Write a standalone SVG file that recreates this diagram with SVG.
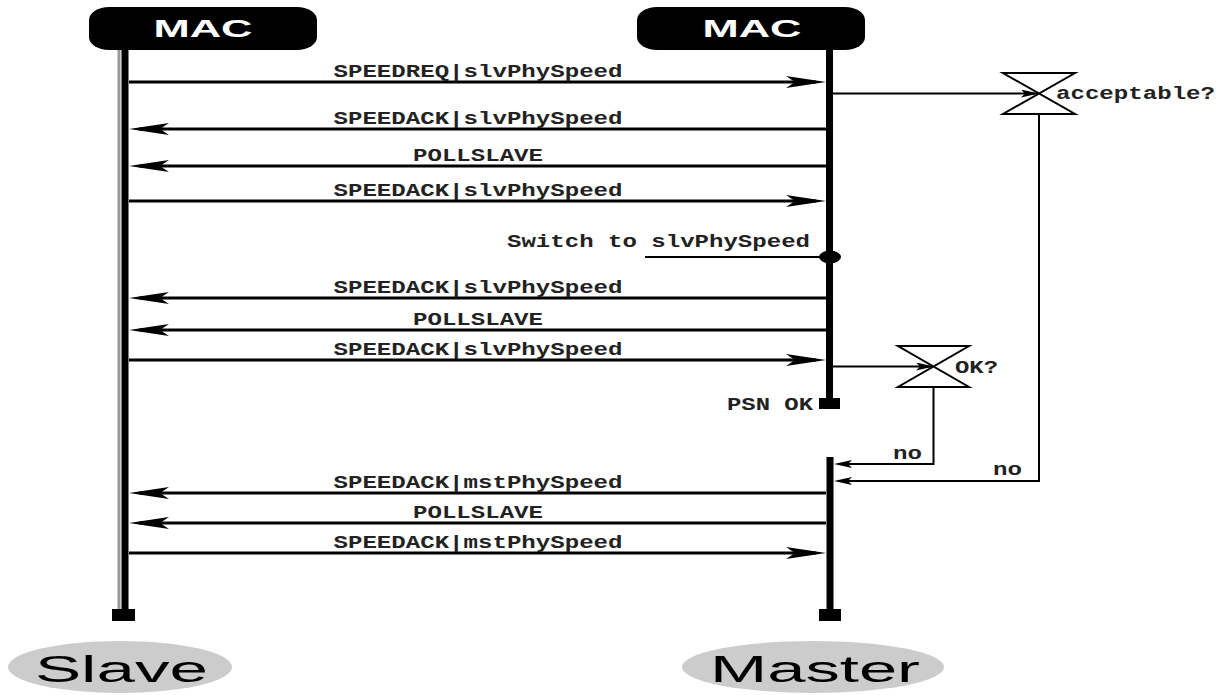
<svg xmlns="http://www.w3.org/2000/svg" width="1224" height="695" viewBox="0 0 1224 695">
<style>
.msg{stroke:#000;stroke-width:3;fill:none}
.thin{stroke:#000;stroke-width:2;fill:none}
.life{stroke:#000;stroke-width:7;fill:none}
.lbl{font-family:"Liberation Mono","Courier New",monospace;font-weight:bold;font-size:18px;fill:#222}
.mac{font-family:"Liberation Sans",Arial,sans-serif;font-weight:bold;font-size:24px;fill:#fff}
.role{font-family:"Liberation Sans",Arial,sans-serif;font-size:37px;fill:#000}
.dec{stroke:#000;stroke-width:2;fill:#fff}
</style>
<defs>
<marker id="big" markerUnits="userSpaceOnUse" viewBox="0 0 40 12" refX="30" refY="6" markerWidth="40" markerHeight="12" orient="auto">
<path d="M0,0 L40,6 L0,12 L9,6 Z" fill="#000"/>
</marker>
<marker id="small" markerUnits="userSpaceOnUse" viewBox="0 0 18 8" refX="14" refY="4" markerWidth="18" markerHeight="8" orient="auto">
<path d="M0,0 L18,4 L0,8 L4,4 Z" fill="#000"/>
</marker>
</defs>
<rect width="1224" height="695" fill="#fff"/>

<g id="slave-mac">
<line x1="119" y1="50" x2="119" y2="612" stroke="#999" stroke-width="3"/>
<line class="life" x1="125" y1="50" x2="125" y2="612"/>
<rect x="112" y="609" width="23" height="12" fill="#000"/>
<rect x="89" y="7" width="228" height="43" rx="20" ry="13" fill="#000"/>
<text class="mac" x="203" y="37" text-anchor="middle" textLength="99" lengthAdjust="spacingAndGlyphs">MAC</text>
</g>

<g id="master-mac">
<line class="life" x1="829.5" y1="50" x2="829.5" y2="400"/>
<rect x="819" y="398" width="21" height="11" fill="#000"/>
<text class="lbl" x="727" y="410" textLength="86" lengthAdjust="spacingAndGlyphs">PSN OK</text>
<line class="life" x1="830" y1="457" x2="830" y2="612"/>
<rect x="819" y="609" width="22" height="12" fill="#000"/>
<rect x="637" y="7" width="228" height="43" rx="20" ry="13" fill="#000"/>
<text class="mac" x="752" y="37" text-anchor="middle" textLength="99" lengthAdjust="spacingAndGlyphs">MAC</text>
</g>

<g id="slave-label">
<ellipse cx="120" cy="667" rx="112" ry="26" fill="#ccc"/>
<text class="role" x="121.5" y="682" text-anchor="middle" textLength="173" lengthAdjust="spacingAndGlyphs">Slave</text>
</g>

<g id="master-label">
<ellipse cx="813" cy="667" rx="131" ry="26" fill="#ccc"/>
<text class="role" x="815" y="682" text-anchor="middle" textLength="210" lengthAdjust="spacingAndGlyphs">Master</text>
</g>

<g id="decision-acceptable">
<path class="dec" d="M1003,73 L1075,73 L1003,114 L1075,114 Z"/>
<text class="lbl" x="1056" y="99" textLength="159" lengthAdjust="spacingAndGlyphs">acceptable?</text>
</g>

<g id="decision-ok">
<path class="dec" d="M898,346 L969,346 L898,387 L969,387 Z"/>
<text class="lbl" x="955" y="373" textLength="43" lengthAdjust="spacingAndGlyphs">OK?</text>
</g>

<g id="switch-event">
<line class="thin" x1="645" y1="257" x2="829" y2="257"/>
<ellipse cx="830" cy="257" rx="11" ry="6.5" fill="#000"/>
<text class="lbl" x="507" y="247" textLength="303" lengthAdjust="spacingAndGlyphs">Switch to slvPhySpeed</text>
</g>

<g id="connectors">
<line class="msg" x1="129" y1="82" x2="816" y2="82" marker-end="url(#big)"/>
<text class="lbl" x="478" y="77" text-anchor="middle" textLength="289" lengthAdjust="spacingAndGlyphs">SPEEDREQ|slvPhySpeed</text>

<line class="thin" x1="833" y1="93.5" x2="1035" y2="93.5" marker-end="url(#small)"/>

<line class="msg" x1="826" y1="129" x2="139" y2="129" marker-end="url(#big)"/>
<text class="lbl" x="478" y="124" text-anchor="middle" textLength="289" lengthAdjust="spacingAndGlyphs">SPEEDACK|slvPhySpeed</text>

<line class="msg" x1="826" y1="166" x2="139" y2="166" marker-end="url(#big)"/>
<text class="lbl" x="478" y="161" text-anchor="middle" textLength="130" lengthAdjust="spacingAndGlyphs">POLLSLAVE</text>

<line class="msg" x1="129" y1="201" x2="816" y2="201" marker-end="url(#big)"/>
<text class="lbl" x="478" y="196" text-anchor="middle" textLength="289" lengthAdjust="spacingAndGlyphs">SPEEDACK|slvPhySpeed</text>

<line class="msg" x1="826" y1="298" x2="139" y2="298" marker-end="url(#big)"/>
<text class="lbl" x="478" y="293" text-anchor="middle" textLength="289" lengthAdjust="spacingAndGlyphs">SPEEDACK|slvPhySpeed</text>

<line class="msg" x1="826" y1="330" x2="139" y2="330" marker-end="url(#big)"/>
<text class="lbl" x="478" y="325" text-anchor="middle" textLength="130" lengthAdjust="spacingAndGlyphs">POLLSLAVE</text>

<line class="msg" x1="129" y1="360" x2="816" y2="360" marker-end="url(#big)"/>
<text class="lbl" x="478" y="355" text-anchor="middle" textLength="289" lengthAdjust="spacingAndGlyphs">SPEEDACK|slvPhySpeed</text>

<line class="thin" x1="833" y1="366.5" x2="930" y2="366.5" marker-end="url(#small)"/>

<polyline class="thin" points="933.5,387 933.5,464 838,464" marker-end="url(#small)"/>
<text class="lbl" x="893" y="459" textLength="29" lengthAdjust="spacingAndGlyphs">no</text>

<polyline class="thin" points="1039,114 1039,481 838,481" marker-end="url(#small)"/>
<text class="lbl" x="993" y="475" textLength="29" lengthAdjust="spacingAndGlyphs">no</text>

<line class="msg" x1="826" y1="493" x2="139" y2="493" marker-end="url(#big)"/>
<text class="lbl" x="478" y="488" text-anchor="middle" textLength="289" lengthAdjust="spacingAndGlyphs">SPEEDACK|mstPhySpeed</text>

<line class="msg" x1="826" y1="523" x2="139" y2="523" marker-end="url(#big)"/>
<text class="lbl" x="478" y="518" text-anchor="middle" textLength="130" lengthAdjust="spacingAndGlyphs">POLLSLAVE</text>

<line class="msg" x1="129" y1="553" x2="816" y2="553" marker-end="url(#big)"/>
<text class="lbl" x="478" y="548" text-anchor="middle" textLength="289" lengthAdjust="spacingAndGlyphs">SPEEDACK|mstPhySpeed</text>
</g>
</svg>
